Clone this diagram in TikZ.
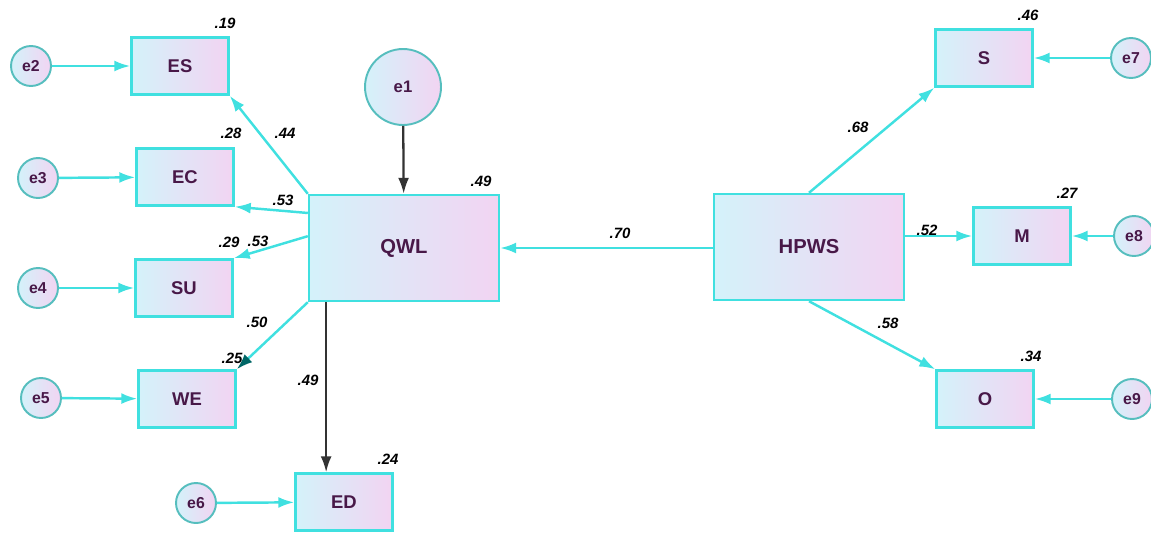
\documentclass[tikz,border=0pt]{standalone}
\usepackage{fontspec}
\setmainfont{Liberation Sans}
\usepackage{tikz}
\usetikzlibrary{arrows.meta,calc}
\definecolor{amoscyan}{RGB}{64,224,224}
\definecolor{amospurple}{RGB}{72,24,72}
\definecolor{boxleft}{RGB}{212,242,250}
\definecolor{boxright}{RGB}{242,212,242}

\begin{document}
\begin{tikzpicture}[x=0.02cm, y=-0.02cm,
    obs/.style={rectangle, draw=amoscyan, line width=1.4pt, left color=boxleft, right color=boxright,
                minimum width=1.94cm, minimum height=1.14cm, font=\fontsize{10.5}{12}\selectfont\bfseries, text=amospurple},
    lat/.style={obs, minimum width=3.8cm, minimum height=2.12cm, font=\fontsize{11.5}{13}\selectfont\bfseries},
    err/.style={circle, draw=amoscyan!65!gray, line width=1.1pt, left color=boxleft, right color=boxright,
                minimum size=0.8cm, inner sep=0pt, font=\fontsize{9}{10}\selectfont\bfseries, text=amospurple},
    coef/.style={font=\fontsize{8.5}{10}\selectfont\bfseries\itshape, inner sep=0pt},
    arr/.style={-{Latex[length=3.2mm, width=2.2mm]}, line width=1.4pt, amoscyan},
    blk/.style={-{Latex[length=3.2mm, width=2.2mm]}, line width=1.3pt, black!80}
]
    \useasboundingbox (0,0) rectangle (1151,534);

    % latent variables
    \node[lat] (qwl) at (404,248) {QWL};
    \node[lat] (hpws) at (809,247) {HPWS};

    % indicators
    \node[obs] (es) at (180,66) {ES};
    \node[obs] (ec) at (185,177) {EC};
    \node[obs] (su) at (184,288) {SU};
    \node[obs] (we) at (187,399) {WE};
    \node[obs] (ed) at (344,502) {ED};
    \node[obs] (s) at (984,58) {S};
    \node[obs] (m) at (1022,236) {M};
    \node[obs] (o) at (985,399) {O};

    % error terms
    \node[err, minimum size=1.52cm, font=\fontsize{9.5}{11}\selectfont\bfseries] (e1) at (403,87) {e1};
    \node[err] (e2) at (31,66) {e2};
    \node[err] (e3) at (38,178) {e3};
    \node[err] (e4) at (38,288) {e4};
    \node[err] (e5) at (41,398) {e5};
    \node[err] (e6) at (196,503) {e6};
    \node[err] (e7) at (1131,58) {e7};
    \node[err] (e8) at (1134,236) {e8};
    \node[err] (e9) at (1132,399) {e9};

    % paths
    \draw[blk] (e1) -- (qwl);
    \draw[arr] (hpws.west |- qwl.east) -- (qwl.east);
    \draw[arr] (qwl.north west) -- (es.south east);
    \draw[arr] (qwl.160) -- (ec.south east);
    \draw[arr] (qwl.173) -- (su.north east);
    \draw[-{Latex[length=3.2mm, width=2.2mm, color=teal!80!black]}, line width=1.4pt, amoscyan] (qwl.south west) -- (we.north east);
    \draw[blk] (ed.121 |- qwl.south) -- (ed.121);
    \draw[arr] (hpws.north) -- (s.south west);
    \draw[arr] (hpws.east |- m.west) -- (m.west);
    \draw[arr] (hpws.south) -- (o.north west);

    \draw[arr] (e2) -- (es);
    \draw[arr] (e3) -- (ec);
    \draw[arr] (e4) -- (su);
    \draw[arr] (e5) -- (we);
    \draw[arr] (e6) -- (ed);
    \draw[arr] (e7) -- (s);
    \draw[arr] (e8) -- (m);
    \draw[arr] (e9) -- (o);

    % estimates
    \node[coef] (r2es) at (225,23) {.19};
    \node[coef] (r2ec) at (231,133) {.28};
    \node[coef] (r2su) at (229,242) {.29};
    \node[coef] (r2we) at (232,358) {.25};
    \node[coef] (r2ed) at (388,459) {.24};
    \node[coef] (r2qwl) at (481,181) {.49};
    \node[coef] (r2s) at (1028,15) {.46};
    \node[coef] (r2m) at (1067,193) {.27};
    \node[coef] (r2o) at (1031,356) {.34};

    \node[coef] (wes) at (285,133) {.44};
    \node[coef] (wec) at (283,200) {.53};
    \node[coef] (wsu) at (258,241) {.53};
    \node[coef] (wwe) at (257,322) {.50};
    \node[coef] (wed) at (308,380) {.49};
    \node[coef] (wqwl) at (620,233) {.70};
    \node[coef] (ws) at (858,127) {.68};
    \node[coef] (wm) at (927,230) {.52};
    \node[coef] (wo) at (888,323) {.58};
\end{tikzpicture}
\end{document}
